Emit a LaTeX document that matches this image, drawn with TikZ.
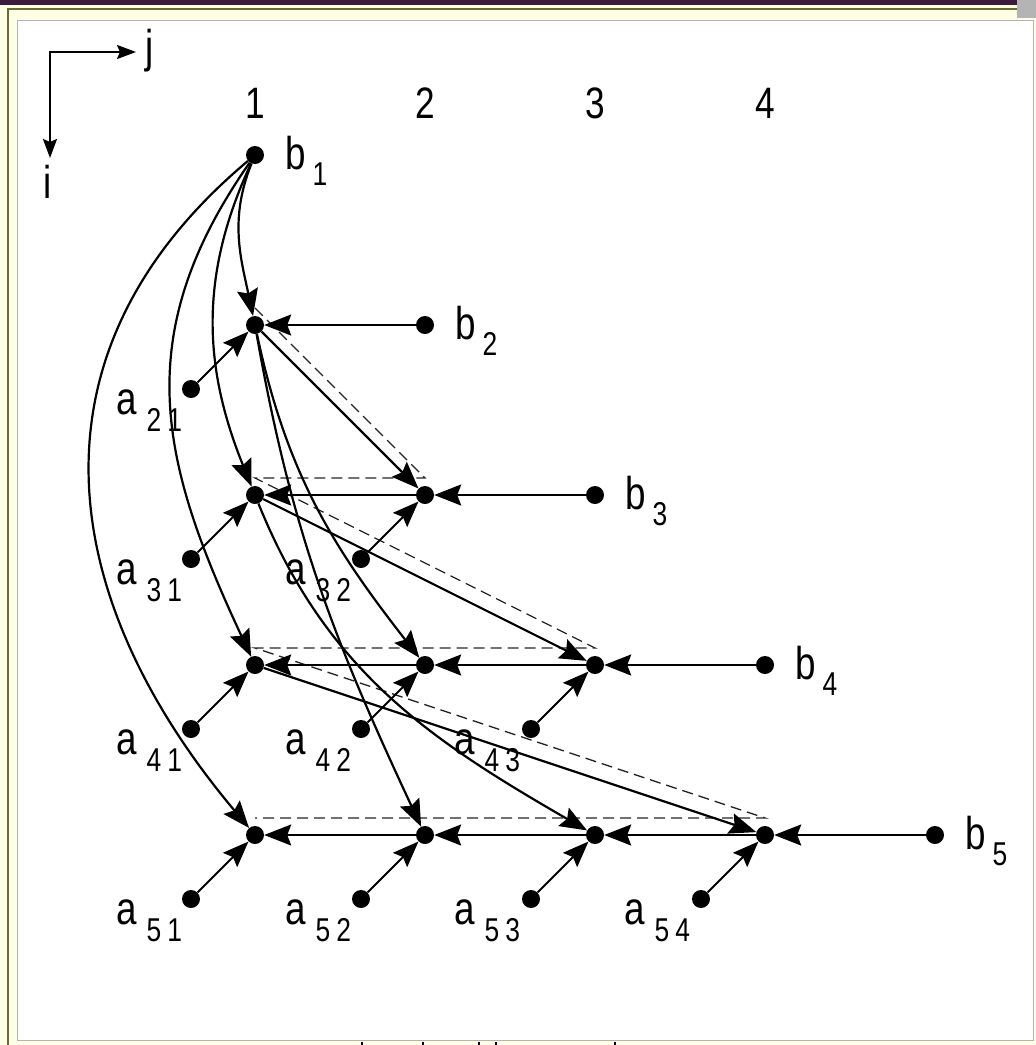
\documentclass[tikz,border=0pt]{standalone}
\usepackage{fontspec}
\setmainfont[FakeStretch=0.8]{Liberation Sans}
\usetikzlibrary{arrows.meta, calc}
\definecolor{framebg}{HTML}{FFFFE6}
\definecolor{framebar}{HTML}{3D1A3D}
\definecolor{frameline}{HTML}{6E6B32}
\definecolor{framegrey}{HTML}{B4B4B4}

\newcommand{\bigsz}{\fontsize{46}{50}\selectfont}
\newcommand{\subsz}{\fontsize{33}{36}\selectfont}
\newcommand{\asub}[2]{a\hspace{10pt}\raisebox{-17pt}{\subsz #1\hspace{6pt}#2}}
\newcommand{\bsub}[1]{b\hspace{7pt}\raisebox{-16pt}{\subsz #1}}

\begin{document}
\begin{tikzpicture}[x=1pt, y=1pt,
  dot/.style={circle, fill=black, inner sep=0pt, minimum size=18pt},
  lbl/.style={font=\bigsz, inner sep=0pt},
  head/.style={font=\fontsize{44}{46}\selectfont, inner sep=0pt},
  link/.style={-{Stealth[length=27pt, width=21pt, inset=4pt]}, line width=2.2pt},
  feed/.style={-{Stealth[length=26pt, width=20pt, inset=4pt]}, line width=2pt},
  guide/.style={black!85, line width=1.3pt, dash pattern=on 11pt off 6pt},
  axis/.style={{Stealth[length=19pt, width=14pt, inset=3pt]}-{Stealth[length=19pt, width=14pt, inset=3pt]}, line width=2pt}]
  \useasboundingbox (0,0) rectangle (1036,-1045);

  % window frame of the screenshot
  \fill[framebg] (0,0) rectangle (1036,-1045);
  \fill[framebar] (0,0) rectangle (1017,-5);
  \fill[framegrey] (1017,0) rectangle (1036,-18);
  \draw[frameline, line width=2pt] (8,-1045) -- (8,-9) -- (1017,-9);
  \filldraw[fill=white, draw=framegrey, line width=1pt] (17,-20) rectangle (1033,-1040);
  \foreach \xx in {362,423,479,496,615}
    \draw[line width=2pt] (\xx,-1042) -- (\xx,-1045);

  % axes
  \coordinate (jtip) at (136,-52);
  \coordinate (itip) at (50,-158);
  \draw[axis] (itip) |- (jtip);
  \node[lbl, anchor=base] (jl) at (150,-62) {j};
  \node[lbl, anchor=base] (il) at (48,-198) {i};

  % column numbers
  \node[head, anchor=base] (c1) at (255,-118) {1};
  \node[head, anchor=base] (c2) at (425,-118) {2};
  \node[head, anchor=base] (c3) at (595,-118) {3};
  \node[head, anchor=base] (c4) at (765,-118) {4};

  % grid of values
  \node[dot] (b1) at (255,-155) {};
  \node[dot] (x21) at (255,-325) {};
  \node[dot] (b2) at (425,-325) {};
  \node[dot] (x31) at (255,-495) {};
  \node[dot] (x32) at (425,-495) {};
  \node[dot] (b3) at (595,-495) {};
  \node[dot] (x41) at (255,-665) {};
  \node[dot] (x42) at (425,-665) {};
  \node[dot] (x43) at (595,-665) {};
  \node[dot] (b4) at (765,-665) {};
  \node[dot] (x51) at (255,-835) {};
  \node[dot] (x52) at (425,-835) {};
  \node[dot] (x53) at (595,-835) {};
  \node[dot] (x54) at (765,-835) {};
  \node[dot] (b5) at (935,-835) {};

  \node[lbl, anchor=base west] (lb1) at (285,-169) {\bsub{1}};
  \node[lbl, anchor=base west] (lb2) at (455,-339) {\bsub{2}};
  \node[lbl, anchor=base west] (lb3) at (625,-509) {\bsub{3}};
  \node[lbl, anchor=base west] (lb4) at (795,-679) {\bsub{4}};
  \node[lbl, anchor=base west] (lb5) at (965,-849) {\bsub{5}};

  % coefficients
  \node[dot] (a21) at (191,-389) {};
  \node[dot] (a31) at (191,-559) {};
  \node[dot] (a32) at (361,-559) {};
  \node[dot] (a41) at (191,-729) {};
  \node[dot] (a42) at (361,-729) {};
  \node[dot] (a43) at (531,-729) {};
  \node[dot] (a51) at (191,-899) {};
  \node[dot] (a52) at (361,-899) {};
  \node[dot] (a53) at (531,-899) {};
  \node[dot] (a54) at (701,-899) {};

  \node[lbl, anchor=base west] (la21) at (116,-414) {\asub{2}{1}};
  \node[lbl, anchor=base west] (la31) at (116,-584) {\asub{3}{1}};
  \node[lbl, anchor=base west] (la32) at (285,-584) {\asub{3}{2}};
  \node[lbl, anchor=base west] (la41) at (116,-754) {\asub{4}{1}};
  \node[lbl, anchor=base west] (la42) at (285,-754) {\asub{4}{2}};
  \node[lbl, anchor=base west] (la43) at (454,-754) {\asub{4}{3}};
  \node[lbl, anchor=base west] (la51) at (116,-924) {\asub{5}{1}};
  \node[lbl, anchor=base west] (la52) at (285,-924) {\asub{5}{2}};
  \node[lbl, anchor=base west] (la53) at (454,-924) {\asub{5}{3}};
  \node[lbl, anchor=base west] (la54) at (624,-924) {\asub{5}{4}};

  % dashed wavefront
  \draw[guide] ($(x21)+(0,17)$) -- ($(x32)+(0,17)$) -- ($(x31)+(0,17)$)
    -- ($(x43)+(0,17)$) -- ($(x41)+(0,17)$) -- ($(x54)+(0,17)$) -- ($(x51)+(0,17)$);

  % rows flow right to left
  \draw[link] (b2) -- (x21);
  \draw[link] (b3) -- (x32);
  \draw[link] (x32) -- (x31);
  \draw[link] (b4) -- (x43);
  \draw[link] (x43) -- (x42);
  \draw[link] (x42) -- (x41);
  \draw[link] (b5) -- (x54);
  \draw[link] (x54) -- (x53);
  \draw[link] (x53) -- (x52);
  \draw[link] (x52) -- (x51);

  \draw[feed] (a21) -- (x21);
  \draw[feed] (a31) -- (x31);
  \draw[feed] (a32) -- (x32);
  \draw[feed] (a41) -- (x41);
  \draw[feed] (a42) -- (x42);
  \draw[feed] (a43) -- (x43);
  \draw[feed] (a51) -- (x51);
  \draw[feed] (a52) -- (x52);
  \draw[feed] (a53) -- (x53);
  \draw[feed] (a54) -- (x54);

  % broadcasts down the columns
  \draw[link] (b1) to[out=-112, in=102] (x21);
  \draw[link] (b1) to[out=-115, in=112] (x31);
  \draw[link] (b1) to[out=-125, in=115, looseness=1.1] (x41);
  \draw[link] (b1) to[out=-140, in=130, looseness=1.15] (x51);
  \draw[link] (x21) -- (x32);
  \draw[link] (x21) to[out=-78, in=128] (x42);
  \draw[link] (x21) to[out=-80, in=115] (x52);
  \draw[link] (x31) -- (x43);
  \draw[link] (x31) to[out=-68, in=150] (x53);
  \draw[link] (x41) -- (x54);
\end{tikzpicture}
\end{document}
